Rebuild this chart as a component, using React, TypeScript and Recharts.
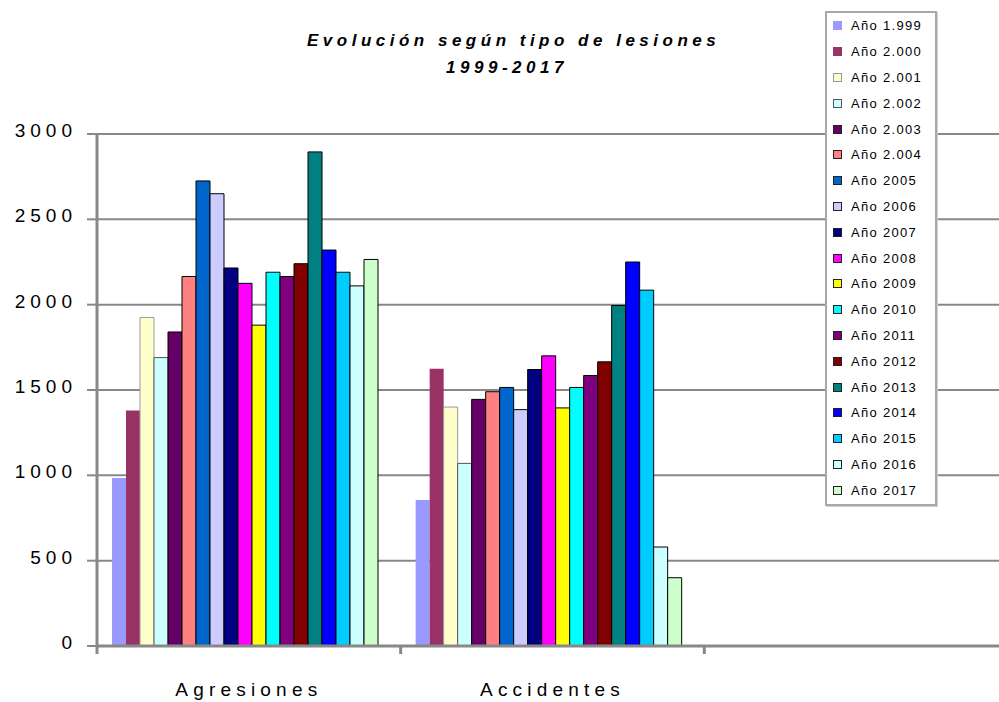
import React from 'react';
import { BarChart, Bar, XAxis, YAxis, CartesianGrid, Legend } from 'recharts';

const categories = ['Agresiones', 'Accidentes', ''];
const years = [
  'Año 1.999', 'Año 2.000', 'Año 2.001', 'Año 2.002', 'Año 2.003', 'Año 2.004',
  'Año 2005', 'Año 2006', 'Año 2007', 'Año 2008', 'Año 2009', 'Año 2010',
  'Año 2011', 'Año 2012', 'Año 2013', 'Año 2014', 'Año 2015', 'Año 2016', 'Año 2017',
];
const agresiones = [985, 1380, 1925, 1690, 1840, 2165, 2725, 2650, 2215, 2125, 1880, 2190, 2165, 2240, 2895, 2320, 2190, 2110, 2265];
const accidentes = [855, 1625, 1400, 1070, 1445, 1490, 1515, 1385, 1620, 1700, 1395, 1515, 1585, 1665, 1995, 2250, 2085, 580, 400];
const yTicks = [0, 500, 1000, 1500, 2000, 2500, 3000];
const colors = [
  '#9999FF', '#993366', '#FFFFCC', '#CCFFFF', '#660066', '#FF8080', '#0066CC', '#CCCCFF',
  '#000080', '#FF00FF', '#FFFF00', '#00FFFF', '#800080', '#800000', '#008080', '#0000FF',
  '#00CCFF', '#CCFFFF', '#CCFFCC',
];
const strokes = [
  'none', 'none', '#999999', '#555555', '#000', '#000', '#000', '#000', '#000', '#000',
  '#000', '#000', '#000', '#000', '#000', '#000', '#000', '#000', '#000',
];

const seriesByCategory = [agresiones, accidentes];
const data = categories.map((c, ci) => {
  const row: any = { name: c };
  if (ci < seriesByCategory.length) {
    years.forEach((_, i) => {
      row['s' + i] = seriesByCategory[ci][i];
    });
  }
  return row;
});

const FONT = '"Liberation Sans", Arial, sans-serif';
const CHART_W = 1030;
const CHART_H = 702;
const MARGIN = { top: 134, right: 22, left: 0, bottom: 0 };
const Y_W = 97;
const X_H = 56;
const PLOT_BOTTOM = CHART_H - MARGIN.bottom - X_H;
const BAND = (CHART_W - MARGIN.right - MARGIN.left - Y_W) / categories.length;

const XTick = (props: any) => {
  const { x, payload } = props;
  const half = payload && typeof payload.offset === 'number' && payload.offset > 0 ? payload.offset : BAND / 2;
  return (
    <g>
      <line x1={x - half} x2={x - half} y1={PLOT_BOTTOM} y2={PLOT_BOTTOM + 8} stroke="#888" strokeWidth={3} />
      <text x={x} y={696} textAnchor="middle" fill="#000" fontSize={19} fontFamily={FONT} letterSpacing={5.2}>
        {payload.value}
      </text>
    </g>
  );
};

const YTick = (props: any) => {
  const { x, y, payload } = props;
  return (
    <text x={x} y={y + 3} textAnchor="end" fill="#000" fontSize={19} fontFamily={FONT} letterSpacing={5}>
      {payload.value}
    </text>
  );
};

const LegendBox = (props: any) => {
  const payload: any[] = props.payload || [];
  const items = years.map((name, i) => {
    const p = payload.find((e: any) => e.value === name);
    return { name, color: p ? p.color : colors[i], stroke: strokes[i] };
  });
  return (
    <div
      style={{
        boxSizing: 'border-box',
        width: 112,
        height: 495,
        background: '#fff',
        border: '2px solid #a8a8a8',
        boxShadow: '1px 1px 0 #d0d0d0',
        paddingLeft: 6,
        paddingTop: 0,
        fontFamily: FONT,
      }}
    >
      {items.map((it) => (
        <div key={it.name} style={{ height: 25.8, display: 'flex', alignItems: 'center' }}>
          <div
            style={{
              boxSizing: 'border-box',
              width: 9,
              height: 9,
              background: it.color,
              border: it.stroke === 'none' ? 'none' : `1px solid ${it.stroke === '#000' ? '#222' : it.stroke}`,
              marginRight: 9,
              flex: '0 0 auto',
            }}
          />
          <span style={{ fontSize: 13, letterSpacing: 1.3, color: '#000', whiteSpace: 'nowrap' }}>{it.name}</span>
        </div>
      ))}
    </div>
  );
};

export default function App() {
  return (
    <div
      style={{
        position: 'fixed',
        left: 0,
        top: 0,
        width: 999,
        height: 702,
        overflow: 'hidden',
        background: '#fff',
      }}
    >
      <div
        style={{
          position: 'absolute',
          left: 307,
          top: 27,
          width: 400,
          textAlign: 'center',
          fontFamily: FONT,
          fontSize: 17,
          fontStyle: 'italic',
          fontWeight: 'bold',
          letterSpacing: 4.5,
          lineHeight: '27px',
          color: '#000',
          zIndex: 2,
          whiteSpace: 'nowrap',
        }}
      >
        <div>Evolución según tipo de lesiones</div>
        <div>1999-2017</div>
      </div>
      <BarChart
        width={CHART_W}
        height={CHART_H}
        data={data}
        margin={MARGIN}
        barGap={0}
        barCategoryGap={15}
      >
        <CartesianGrid vertical={false} stroke="#888" strokeWidth={2} />
        <XAxis
          dataKey="name"
          height={X_H}
          axisLine={{ stroke: '#888', strokeWidth: 3 }}
          tickLine={false}
          tick={<XTick />}
          interval={0}
        />
        <YAxis
          width={Y_W}
          domain={[0, 3000]}
          ticks={yTicks}
          interval={0}
          axisLine={{ stroke: '#888', strokeWidth: 3 }}
          tickLine={{ stroke: '#888', strokeWidth: 2 }}
          tickSize={10}
          tickMargin={10}
          tick={<YTick />}
        />
        <Legend
          layout="horizontal"
          verticalAlign="middle"
          align="center"
          content={<LegendBox />}
          wrapperStyle={{ position: 'absolute', left: 825, top: 11, width: 112, height: 495 }}
        />
        {years.map((name, i) => (
          <Bar
            key={name}
            dataKey={'s' + i}
            name={name}
            fill={colors[i]}
            stroke={strokes[i]}
            strokeWidth={1}
            isAnimationActive={false}
          />
        ))}
      </BarChart>
    </div>
  );
}
